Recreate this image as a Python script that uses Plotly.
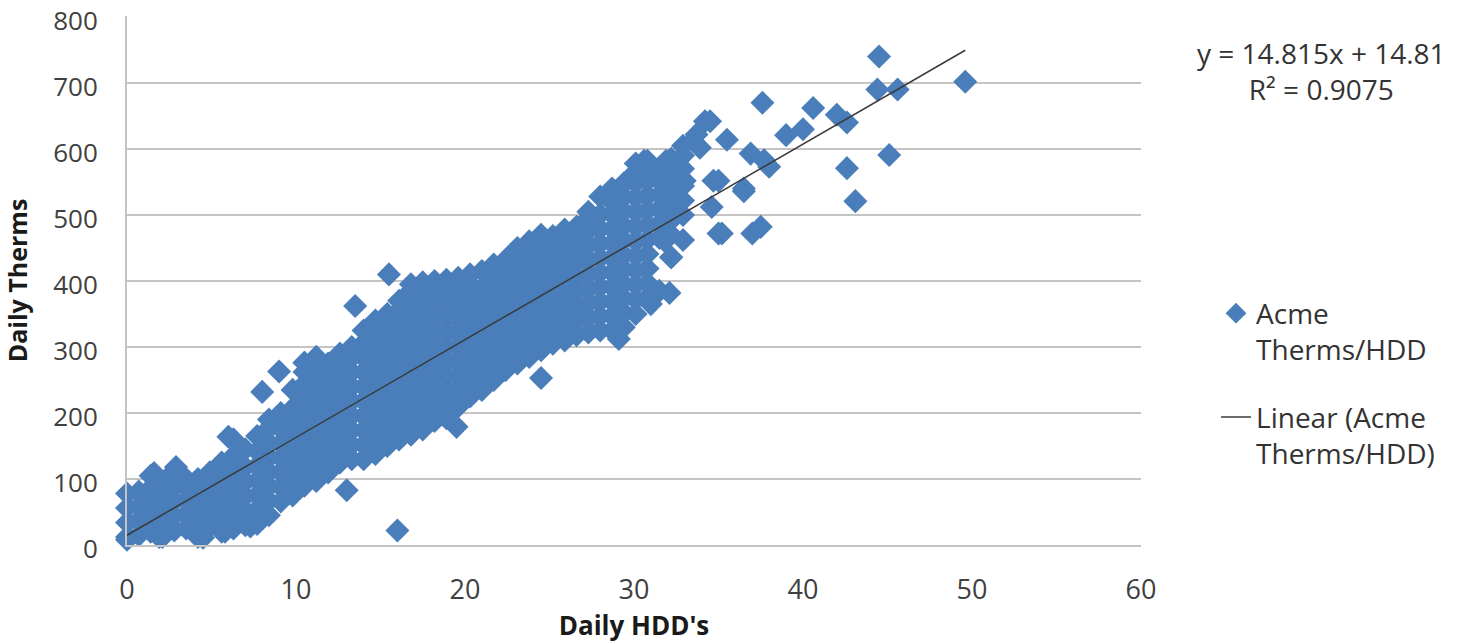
import plotly.graph_objects as go

# ---- data ----
# dense band: x position of each column and the therm values stacked in it
column_hdd = [0.0, 0.7, 1.4, 2.1, 2.8, 3.5, 4.2, 4.9, 5.6, 6.3, 7.0, 7.7, 8.4, 9.1, 9.8,
              10.5, 11.2, 11.9, 12.6, 13.3, 14.0, 14.7, 15.4, 16.1, 16.8, 17.5, 18.2, 18.9,
              19.6, 20.3, 21.0, 21.7, 22.4, 23.1, 23.8, 24.5, 25.2, 25.9, 26.6, 27.3, 28.0,
              28.7, 29.4, 30.1, 30.8, 31.5, 32.2, 32.9]
column_therms = [
    [12, 34, 56, 78],
    [15, 37, 59, 81],
    [20, 42, 64, 86, 105],
    [12, 34, 56, 78, 95],
    [22, 44, 66, 88, 112],
    [25, 47, 69, 88, 100],
    [12, 34, 56, 78, 100],
    [28, 50, 72, 94, 110],
    [20, 42, 64, 86, 108, 125],
    [25, 47, 69, 91, 113, 135, 160],
    [30, 52, 74, 96, 118, 145],
    [32, 54, 76, 98, 120, 142, 165],
    [45, 67, 89, 111, 133, 155, 177, 190],
    [66, 88, 110, 132, 154, 176, 200],
    [75, 97, 119, 141, 163, 185, 207, 235],
    [90, 112, 134, 156, 178, 200, 222, 244, 262, 276],
    [97, 119, 141, 163, 185, 207, 229, 251, 270, 285],
    [110, 132, 154, 176, 198, 220, 242, 262, 275],
    [125, 147, 169, 191, 213, 235, 257, 275, 290],
    [130, 152, 174, 196, 218, 240, 262, 284, 300],
    [130, 152, 174, 196, 218, 240, 262, 284, 306, 325],
    [138, 160, 182, 204, 226, 248, 270, 292, 314, 340],
    [150, 172, 194, 216, 238, 260, 282, 304, 326, 350],
    [160, 182, 204, 226, 248, 270, 292, 314, 336, 355, 370],
    [167, 189, 211, 233, 255, 277, 299, 321, 343, 365, 385, 395],
    [175, 197, 219, 241, 263, 285, 307, 329, 351, 373, 398],
    [188, 210, 232, 254, 276, 298, 320, 342, 364, 385, 400],
    [192, 214, 236, 258, 280, 302, 324, 346, 368, 390, 402],
    [210, 232, 254, 276, 298, 320, 342, 364, 386, 405],
    [225, 247, 269, 291, 313, 335, 357, 379, 395, 410],
    [235, 257, 279, 301, 323, 345, 367, 389, 415],
    [250, 272, 294, 316, 338, 360, 382, 404, 425],
    [265, 287, 309, 331, 353, 375, 397, 419, 432],
    [275, 297, 319, 341, 363, 385, 407, 429, 450],
    [285, 307, 329, 351, 373, 395, 417, 439, 460],
    [295, 317, 339, 361, 383, 405, 427, 449, 470],
    [305, 327, 349, 371, 393, 415, 437, 455, 468],
    [310, 332, 354, 376, 398, 420, 442, 464, 478],
    [318, 340, 362, 384, 406, 428, 450, 470, 482],
    [322, 344, 366, 388, 410, 432, 454, 476, 495, 505],
    [325, 347, 369, 391, 413, 435, 457, 479, 501, 528],
    [325, 347, 369, 391, 413, 435, 457, 479, 501, 520, 540],
    [330, 352, 374, 396, 418, 440, 462, 484, 506, 528, 548],
    [350, 372, 394, 416, 438, 460, 482, 504, 526, 548, 565, 578],
    [375, 397, 419, 441, 463, 485, 507, 529, 551, 570, 582],
    [385, 465, 487, 509, 531, 553, 570],
    [436, 470, 492, 514, 536, 560, 585],
    [462, 500, 522, 544, 570, 590, 605],
]

# scattered points outside the dense band
outlier_hdd = [0.0, 1.9, 4.5, 5.8, 7.3, 1.6, 2.9, 6.0, 8.0, 9.0, 10.5, 13.5, 13.0, 15.5, 16.0,
               19.5, 24.5, 29.1, 31.0, 32.1, 32.2, 31.8, 30.6, 31.9, 32.6, 32.4, 33.0, 33.5,
               33.7, 33.9, 34.2, 34.5, 34.6, 34.7, 35.0, 35.2, 35.0, 35.5, 36.5, 36.5, 36.9,
               37.0, 37.5, 37.7, 38.0, 37.6, 39.0, 40.0, 40.6, 42.0, 42.6, 42.6, 43.1, 44.5,
               44.4, 45.6, 45.1, 49.6]
outlier_therms = [8, 12, 11, 20, 28, 109, 118, 164, 232, 263, 276, 362, 83, 410, 22,
                  179, 253, 312, 365, 382, 436, 461, 582, 582, 582, 552, 552, 612,
                  622, 602, 642, 642, 512, 552, 552, 472, 472, 614, 536, 540, 593,
                  472, 482, 583, 573, 670, 621, 630, 662, 652, 640, 571, 521, 740,
                  690, 690, 591, 702]

# linear trend shown on the chart
trend_slope = 14.815
trend_intercept = 14.81
trend_hdd = [0.0, 49.6]

x_ticks = [0, 10, 20, 30, 40, 50, 60]
y_ticks = [0, 100, 200, 300, 400, 500, 600, 700, 800]

# ---- build ----
hdd = []
therms = []
for cx, ys in zip(column_hdd, column_therms):
    for yv in ys:
        hdd.append(cx)
        therms.append(yv)
hdd += outlier_hdd
therms += outlier_therms

trend_therms = [trend_slope * v + trend_intercept for v in trend_hdd]

BLUE = "#4A7EBB"
GRID = "#C4C4C4"
FONT = "Open Sans"

fig = go.Figure()
fig.add_trace(go.Scatter(
    x=hdd, y=therms, mode="markers",
    name="Acme<br>Therms/HDD",
    marker=dict(symbol="diamond", size=18.5, color=BLUE, line=dict(width=0)),
    cliponaxis=False,
    legendgroup="a",
))
fig.add_trace(go.Scatter(
    x=trend_hdd, y=trend_therms, mode="lines",
    name="Linear (Acme<br>Therms/HDD)",
    line=dict(color="#3a3a3a", width=1.5),
    cliponaxis=False,
    legendgroup="b",
))

PLOT_TOP = 16
PLOT_BOTTOM = 99
PLOT_H = 644 - PLOT_TOP - PLOT_BOTTOM

fig.update_layout(
    width=1460, height=644,
    margin=dict(l=127, r=319, t=PLOT_TOP, b=PLOT_BOTTOM, autoexpand=False),
    paper_bgcolor="white", plot_bgcolor="white",
    font=dict(family=FONT, size=27, color="#404040"),
    showlegend=True,
    legend=dict(
        x=1.074, y=0.485, xanchor="left", yanchor="top",
        font=dict(family=FONT, size=28, color="#333333"),
        traceorder="grouped", tracegroupgap=28, valign="top",
        bgcolor="rgba(0,0,0,0)",
    ),
    xaxis=dict(
        range=[0, 60], tickvals=x_ticks, showgrid=False, zeroline=False,
        showline=True, linecolor=GRID, linewidth=2, ticks="", ticklabelstandoff=20,
        automargin=False,
        tickfont=dict(family=FONT, size=27, color="#404040"),
        title=dict(text="<b>Daily HDD's</b>", standoff=8,
                   font=dict(family=FONT, size=26, color="#1a1a1a")),
    ),
    yaxis=dict(
        range=[0, 801.5], tickvals=y_ticks, showgrid=True, gridcolor=GRID,
        gridwidth=2, zeroline=False, showline=True, linecolor=GRID,
        linewidth=2, ticks="", ticklabelstandoff=22, ticklabeloverflow="allow",
        ticklabelshift=4, automargin=False,
        tickfont=dict(family=FONT, size=26, color="#404040"),
        title=dict(text="<b>Daily Therms</b>", standoff=18,
                   font=dict(family=FONT, size=25, color="#1a1a1a")),
    ),
    annotations=[
        dict(xref="paper", yref="paper", x=1.1785,
             y=(644 - PLOT_BOTTOM - 71) / PLOT_H,
             text="y = 14.815x + 14.81<br>R² = 0.9075", showarrow=False,
             xanchor="center", yanchor="middle", align="center",
             font=dict(family=FONT, size=28, color="#333333")),
    ],
)

fig.write_html("out.html")
